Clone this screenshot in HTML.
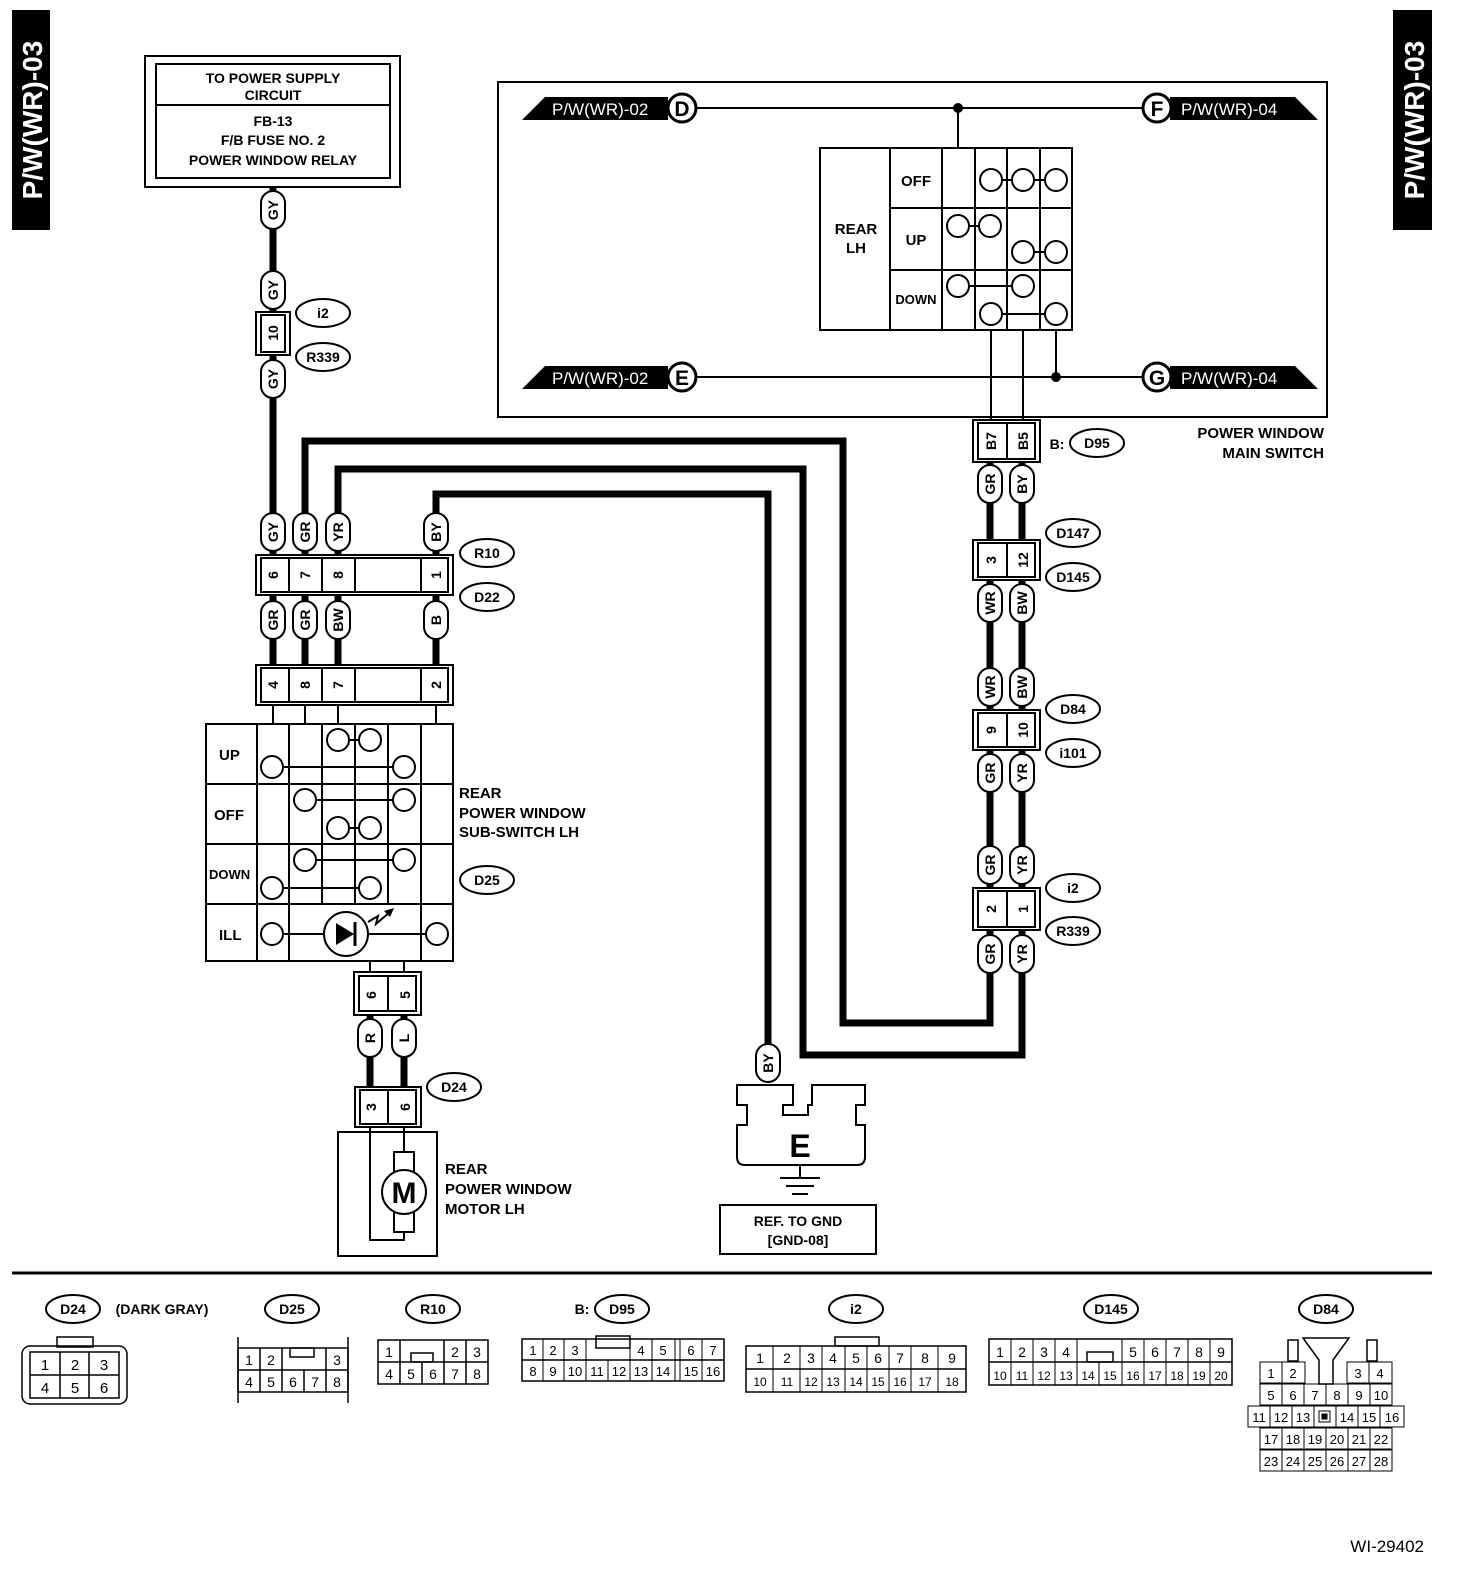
<!DOCTYPE html>
<html><head><meta charset="utf-8"><style>
html,body{margin:0;padding:0;background:#fff;overflow:hidden;width:1472px;height:1576px}
svg{display:block}
text{font-family:"Liberation Sans",Arial,sans-serif;font-weight:bold;fill:#000}
</style></head><body>
<svg width="1472" height="1576" viewBox="0 0 1472 1576" xmlns="http://www.w3.org/2000/svg">
<defs>
<g id="pill"><rect x="-12" y="-19" width="24" height="38" rx="12" fill="#fff" stroke="#000" stroke-width="2"/></g>
</defs>
<!-- side tabs -->
<rect x="12" y="10" width="38" height="220" fill="#000"/>
<text transform="translate(42,120) rotate(-90)" font-size="28" text-anchor="middle" style="fill:#fff">P/W(WR)-03</text>
<rect x="1393" y="10" width="39" height="220" fill="#000"/>
<text transform="translate(1424,120) rotate(-90)" font-size="28" text-anchor="middle" style="fill:#fff">P/W(WR)-03</text>

<!-- power supply box -->
<rect x="145" y="56" width="255" height="131" fill="none" stroke="#000" stroke-width="2"/>
<rect x="156" y="64" width="234" height="114" fill="none" stroke="#000" stroke-width="2"/>
<line x1="156" y1="105" x2="390" y2="105" stroke="#000" stroke-width="2"/>
<g font-size="14" text-anchor="middle">
<text x="273" y="83">TO POWER SUPPLY</text><text x="273" y="100">CIRCUIT</text>
<text x="273" y="126">FB-13</text><text x="273" y="145">F/B FUSE NO. 2</text><text x="273" y="165">POWER WINDOW RELAY</text>
</g>

<!-- thick wires -->
<g fill="none" stroke="#000" stroke-width="7">
<line x1="273" y1="187" x2="273" y2="555"/>
<polyline points="305,555 305,441 843,441 843,1023 990,1023 990,965"/>
<polyline points="338,555 338,469 803,469 803,1055 1022,1055 1022,965"/>
<polyline points="436,555 436,494 768,494 768,1050"/>
<line x1="273" y1="595" x2="273" y2="665"/><line x1="305" y1="595" x2="305" y2="665"/><line x1="338" y1="595" x2="338" y2="665"/><line x1="436" y1="595" x2="436" y2="665"/>
<line x1="370" y1="1015" x2="370" y2="1087"/><line x1="404" y1="1015" x2="404" y2="1087"/>
<line x1="990" y1="462" x2="990" y2="540"/><line x1="1022" y1="462" x2="1022" y2="540"/>
<line x1="990" y1="580" x2="990" y2="710"/><line x1="1022" y1="580" x2="1022" y2="710"/>
<line x1="990" y1="750" x2="990" y2="888"/><line x1="1022" y1="750" x2="1022" y2="888"/>
<line x1="990" y1="930" x2="990" y2="970"/><line x1="1022" y1="930" x2="1022" y2="970"/>
</g>

<!-- GY pills top -->
<g font-size="14">
<use href="#pill" x="273" y="210"/><text transform="translate(278,210) rotate(-90)" text-anchor="middle">GY</text>
<use href="#pill" x="273" y="290"/><text transform="translate(278,290) rotate(-90)" text-anchor="middle">GY</text>
<use href="#pill" x="273" y="379"/><text transform="translate(278,379) rotate(-90)" text-anchor="middle">GY</text>
</g>
<rect x="256" y="312" width="34" height="43" fill="#fff" stroke="#000" stroke-width="2"/>
<rect x="261" y="315" width="24" height="37" fill="#fff" stroke="#000" stroke-width="2"/>
<text transform="translate(278,333) rotate(-90)" text-anchor="middle" font-size="14">10</text>
<g font-size="14" text-anchor="middle">
<ellipse cx="323" cy="313" rx="27" ry="14" fill="#fff" stroke="#000" stroke-width="2"/><text x="323" y="318">i2</text>
<ellipse cx="323" cy="357" rx="27" ry="14" fill="#fff" stroke="#000" stroke-width="2"/><text x="323" y="362">R339</text>
</g>

<!-- R10/D22 area -->
<g font-size="14">
<use href="#pill" x="273" y="532"/><text transform="translate(278,532) rotate(-90)" text-anchor="middle">GY</text>
<use href="#pill" x="305" y="532"/><text transform="translate(310,532) rotate(-90)" text-anchor="middle">GR</text>
<use href="#pill" x="338" y="532"/><text transform="translate(343,532) rotate(-90)" text-anchor="middle">YR</text>
<use href="#pill" x="436" y="532"/><text transform="translate(441,532) rotate(-90)" text-anchor="middle">BY</text>
<use href="#pill" x="273" y="620"/><text transform="translate(278,620) rotate(-90)" text-anchor="middle">GR</text>
<use href="#pill" x="305" y="620"/><text transform="translate(310,620) rotate(-90)" text-anchor="middle">GR</text>
<use href="#pill" x="338" y="620"/><text transform="translate(343,620) rotate(-90)" text-anchor="middle">BW</text>
<use href="#pill" x="436" y="620"/><text transform="translate(441,620) rotate(-90)" text-anchor="middle">B</text>
</g>
<rect x="256" y="555" width="197" height="40" fill="#fff" stroke="#000" stroke-width="2"/>
<rect x="261" y="558" width="187" height="34" fill="#fff" stroke="#000" stroke-width="2"/>
<g stroke="#000" stroke-width="2"><line x1="289" y1="558" x2="289" y2="592"/><line x1="322" y1="558" x2="322" y2="592"/><line x1="355" y1="558" x2="355" y2="592"/><line x1="421" y1="558" x2="421" y2="592"/></g>
<g font-size="14" text-anchor="middle">
<text transform="translate(278,575) rotate(-90)">6</text><text transform="translate(310,575) rotate(-90)">7</text><text transform="translate(343,575) rotate(-90)">8</text><text transform="translate(441,575) rotate(-90)">1</text>
</g>
<rect x="256" y="665" width="197" height="40" fill="#fff" stroke="#000" stroke-width="2"/>
<rect x="261" y="668" width="187" height="34" fill="#fff" stroke="#000" stroke-width="2"/>
<g stroke="#000" stroke-width="2"><line x1="289" y1="668" x2="289" y2="702"/><line x1="322" y1="668" x2="322" y2="702"/><line x1="355" y1="668" x2="355" y2="702"/><line x1="421" y1="668" x2="421" y2="702"/></g>
<g font-size="14" text-anchor="middle">
<text transform="translate(278,685) rotate(-90)">4</text><text transform="translate(310,685) rotate(-90)">8</text><text transform="translate(343,685) rotate(-90)">7</text><text transform="translate(441,685) rotate(-90)">2</text>
</g>
<g font-size="14" text-anchor="middle">
<ellipse cx="487" cy="553" rx="27" ry="14" fill="#fff" stroke="#000" stroke-width="2"/><text x="487" y="558">R10</text>
<ellipse cx="487" cy="597" rx="27" ry="14" fill="#fff" stroke="#000" stroke-width="2"/><text x="487" y="602">D22</text>
<ellipse cx="487" cy="880" rx="27" ry="14" fill="#fff" stroke="#000" stroke-width="2"/><text x="487" y="885">D25</text>
<ellipse cx="454" cy="1087" rx="27" ry="14" fill="#fff" stroke="#000" stroke-width="2"/><text x="454" y="1092">D24</text>
</g>
<g stroke="#000" stroke-width="2"><line x1="273" y1="705" x2="273" y2="724"/><line x1="305" y1="705" x2="305" y2="724"/><line x1="338" y1="705" x2="338" y2="724"/><line x1="436" y1="705" x2="436" y2="724"/></g>

<!-- Sub switch -->
<g fill="none" stroke="#000" stroke-width="2">
<rect x="206" y="724" width="247" height="237"/>
<line x1="206" y1="784" x2="453" y2="784"/><line x1="206" y1="844" x2="453" y2="844"/><line x1="206" y1="904" x2="453" y2="904"/>
<line x1="257" y1="724" x2="257" y2="961"/><line x1="289" y1="724" x2="289" y2="961"/>
<line x1="322" y1="724" x2="322" y2="904"/><line x1="355" y1="724" x2="355" y2="904"/><line x1="388" y1="724" x2="388" y2="904"/><line x1="421" y1="724" x2="421" y2="961"/>
</g>
<g fill="#fff" stroke="#000" stroke-width="2">
<line x1="348" y1="740" x2="360" y2="740"/><line x1="283" y1="767" x2="393" y2="767"/>
<line x1="316" y1="800" x2="393" y2="800"/><line x1="348" y1="828" x2="360" y2="828"/>
<line x1="316" y1="860" x2="393" y2="860"/><line x1="283" y1="888" x2="360" y2="888"/>
<line x1="283" y1="934" x2="426" y2="934"/>
<circle cx="338" cy="740" r="11"/><circle cx="370" cy="740" r="11"/><circle cx="272" cy="767" r="11"/><circle cx="404" cy="767" r="11"/>
<circle cx="305" cy="800" r="11"/><circle cx="404" cy="800" r="11"/><circle cx="338" cy="828" r="11"/><circle cx="370" cy="828" r="11"/>
<circle cx="305" cy="860" r="11"/><circle cx="404" cy="860" r="11"/><circle cx="272" cy="888" r="11"/><circle cx="370" cy="888" r="11"/>
<circle cx="272" cy="934" r="11"/><circle cx="437" cy="934" r="11"/><circle cx="346" cy="934" r="22"/>
</g>
<polygon points="336,923 336,945 354,934" fill="#000"/><line x1="355" y1="922" x2="355" y2="946" stroke="#000" stroke-width="3"/>
<polyline points="368,922 378,916 376,924 390,912" fill="none" stroke="#000" stroke-width="2"/><polygon points="394,908 384,911 390,917" fill="#000"/>
<g font-size="15">
<text x="219" y="760">UP</text><text x="214" y="820">OFF</text><text x="209" y="879" font-size="13">DOWN</text><text x="219" y="940">ILL</text>
<text x="459" y="798">REAR</text><text x="459" y="818">POWER WINDOW</text><text x="459" y="837">SUB-SWITCH LH</text>
</g>

<!-- motor side -->
<g stroke="#000" stroke-width="2"><line x1="370" y1="961" x2="370" y2="972"/><line x1="404" y1="961" x2="404" y2="972"/></g>
<rect x="354" y="972" width="67" height="43" fill="#fff" stroke="#000" stroke-width="2"/>
<rect x="359" y="976" width="57" height="35" fill="#fff" stroke="#000" stroke-width="2"/>
<line x1="388" y1="976" x2="388" y2="1011" stroke="#000" stroke-width="2"/>
<g font-size="14" text-anchor="middle">
<text transform="translate(376,995) rotate(-90)">6</text><text transform="translate(410,995) rotate(-90)">5</text>
</g>
<g font-size="14">
<use href="#pill" x="370" y="1038"/><text transform="translate(375,1038) rotate(-90)" text-anchor="middle">R</text>
<use href="#pill" x="404" y="1038"/><text transform="translate(409,1038) rotate(-90)" text-anchor="middle">L</text>
</g>
<rect x="355" y="1087" width="66" height="40" fill="#fff" stroke="#000" stroke-width="2"/>
<rect x="360" y="1090" width="56" height="34" fill="#fff" stroke="#000" stroke-width="2"/>
<line x1="388" y1="1090" x2="388" y2="1124" stroke="#000" stroke-width="2"/>
<g font-size="14" text-anchor="middle"><text transform="translate(376,1107) rotate(-90)">3</text><text transform="translate(410,1107) rotate(-90)">6</text></g>
<rect x="338" y="1132" width="99" height="124" fill="#fff" stroke="#000" stroke-width="2"/>
<polyline points="370,1127 370,1240 404,1240 404,1220" fill="none" stroke="#000" stroke-width="2"/>
<polyline points="404,1127 404,1152" fill="none" stroke="#000" stroke-width="2"/>
<rect x="394" y="1152" width="20" height="80" fill="#fff" stroke="#000" stroke-width="2"/>
<circle cx="404" cy="1192" r="22" fill="#fff" stroke="#000" stroke-width="2"/>
<text x="404" y="1203" font-size="30" text-anchor="middle">M</text>
<g font-size="15"><text x="445" y="1174">REAR</text><text x="445" y="1194">POWER WINDOW</text><text x="445" y="1214">MOTOR LH</text></g>

<!-- ground -->
<use href="#pill" x="768" y="1063"/><text transform="translate(773,1063) rotate(-90)" text-anchor="middle" font-size="14">BY</text>
<path d="M737,1085 H793 V1105 H783 V1115 H808 V1105 H812 V1085 H865 V1105 H856 V1125 H865 V1157 Q865,1165 857,1165 H745 Q737,1165 737,1157 V1125 H747 V1105 H737 Z" fill="#fff" stroke="#000" stroke-width="2"/>
<text x="800" y="1157" font-size="32" text-anchor="middle">E</text>
<g stroke="#000" stroke-width="2"><line x1="800" y1="1165" x2="800" y2="1178"/><line x1="780" y1="1178" x2="820" y2="1178"/><line x1="786" y1="1186" x2="814" y2="1186"/><line x1="792" y1="1194" x2="808" y2="1194"/></g>
<rect x="720" y="1205" width="156" height="49" fill="#fff" stroke="#000" stroke-width="2"/>
<g font-size="14" text-anchor="middle"><text x="798" y="1226">REF. TO GND</text><text x="798" y="1245">[GND-08]</text></g>

<!-- main switch box -->
<rect x="498" y="82" width="829" height="335" fill="none" stroke="#000" stroke-width="2"/>
<line x1="690" y1="108" x2="1150" y2="108" stroke="#000" stroke-width="2"/>
<line x1="690" y1="377" x2="1150" y2="377" stroke="#000" stroke-width="2"/>
<circle cx="958" cy="108" r="5" fill="#000"/><circle cx="1056" cy="377" r="5" fill="#000"/>
<line x1="958" y1="108" x2="958" y2="148" stroke="#000" stroke-width="2"/>
<polygon points="522,120 545,97 668,97 668,120" fill="#000"/>
<polygon points="522,389 545,366 668,366 668,389" fill="#000"/>
<polygon points="1170,97 1295,97 1318,120 1170,120" fill="#000"/>
<polygon points="1170,366 1295,366 1318,389 1170,389" fill="#000"/>
<g font-size="17">
<text x="552" y="115" style="fill:#fff;font-weight:normal">P/W(WR)-02</text>
<text x="552" y="384" style="fill:#fff;font-weight:normal">P/W(WR)-02</text>
<text x="1181" y="115" style="fill:#fff;font-weight:normal">P/W(WR)-04</text>
<text x="1181" y="384" style="fill:#fff;font-weight:normal">P/W(WR)-04</text>
</g>
<g fill="#fff" stroke="#000" stroke-width="3">
<circle cx="682" cy="108" r="14"/><circle cx="682" cy="377" r="14"/><circle cx="1157" cy="108" r="14"/><circle cx="1157" cy="377" r="14"/>
</g>
<g font-size="21" text-anchor="middle">
<text x="682" y="116">D</text><text x="682" y="385">E</text><text x="1157" y="116">F</text><text x="1157" y="385">G</text>
</g>
<!-- main switch table -->
<g fill="none" stroke="#000" stroke-width="2">
<rect x="820" y="148" width="252" height="182"/>
<line x1="890" y1="148" x2="890" y2="330"/><line x1="942" y1="148" x2="942" y2="330"/><line x1="975" y1="148" x2="975" y2="330"/><line x1="1007" y1="148" x2="1007" y2="330"/><line x1="1040" y1="148" x2="1040" y2="330"/>
<line x1="890" y1="208" x2="1072" y2="208"/><line x1="890" y1="270" x2="1072" y2="270"/>
</g>
<g fill="#fff" stroke="#000" stroke-width="2">
<line x1="991" y1="180" x2="1056" y2="180"/><line x1="958" y1="226" x2="990" y2="226"/><line x1="1023" y1="252" x2="1056" y2="252"/>
<line x1="958" y1="286" x2="1023" y2="286"/><line x1="991" y1="314" x2="1056" y2="314"/>
<circle cx="991" cy="180" r="11"/><circle cx="1023" cy="180" r="11"/><circle cx="1056" cy="180" r="11"/>
<circle cx="958" cy="226" r="11"/><circle cx="990" cy="226" r="11"/><circle cx="1023" cy="252" r="11"/><circle cx="1056" cy="252" r="11"/>
<circle cx="958" cy="286" r="11"/><circle cx="1023" cy="286" r="11"/><circle cx="991" cy="314" r="11"/><circle cx="1056" cy="314" r="11"/>
</g>
<g stroke="#000" stroke-width="2"><line x1="991" y1="330" x2="991" y2="420"/><line x1="1023" y1="330" x2="1023" y2="420"/><line x1="1056" y1="330" x2="1056" y2="377"/></g>
<g font-size="15" text-anchor="middle">
<text x="856" y="234">REAR</text><text x="856" y="253">LH</text>
<text x="916" y="186">OFF</text><text x="916" y="245">UP</text><text x="916" y="304" font-size="13">DOWN</text>
</g>
<g font-size="15" text-anchor="end"><text x="1324" y="438">POWER WINDOW</text><text x="1324" y="458">MAIN SWITCH</text></g>

<!-- right wiring connectors -->
<g font-size="14" text-anchor="middle">
<rect x="973" y="420" width="67" height="42" fill="#fff" stroke="#000" stroke-width="2"/>
<rect x="978" y="423" width="57" height="36" fill="#fff" stroke="#000" stroke-width="2"/>
<line x1="1007" y1="423" x2="1007" y2="459" stroke="#000" stroke-width="2"/>
<text transform="translate(996,441) rotate(-90)">B7</text><text transform="translate(1028,441) rotate(-90)">B5</text>
<text x="1057" y="449">B:</text>
<ellipse cx="1097" cy="443" rx="27" ry="14" fill="#fff" stroke="#000" stroke-width="2"/><text x="1097" y="448">D95</text>

<use href="#pill" x="990" y="484"/><text transform="translate(995,484) rotate(-90)">GR</text>
<use href="#pill" x="1022" y="484"/><text transform="translate(1027,484) rotate(-90)">BY</text>

<rect x="973" y="540" width="67" height="40" fill="#fff" stroke="#000" stroke-width="2"/>
<rect x="978" y="543" width="57" height="34" fill="#fff" stroke="#000" stroke-width="2"/>
<line x1="1007" y1="543" x2="1007" y2="577" stroke="#000" stroke-width="2"/>
<text transform="translate(996,560) rotate(-90)">3</text><text transform="translate(1028,560) rotate(-90)">12</text>
<ellipse cx="1073" cy="533" rx="27" ry="14" fill="#fff" stroke="#000" stroke-width="2"/><text x="1073" y="538">D147</text>
<ellipse cx="1073" cy="577" rx="27" ry="14" fill="#fff" stroke="#000" stroke-width="2"/><text x="1073" y="582">D145</text>

<use href="#pill" x="990" y="603"/><text transform="translate(995,603) rotate(-90)">WR</text>
<use href="#pill" x="1022" y="603"/><text transform="translate(1027,603) rotate(-90)">BW</text>
<use href="#pill" x="990" y="687"/><text transform="translate(995,687) rotate(-90)">WR</text>
<use href="#pill" x="1022" y="687"/><text transform="translate(1027,687) rotate(-90)">BW</text>

<rect x="973" y="710" width="67" height="40" fill="#fff" stroke="#000" stroke-width="2"/>
<rect x="978" y="713" width="57" height="34" fill="#fff" stroke="#000" stroke-width="2"/>
<line x1="1007" y1="713" x2="1007" y2="747" stroke="#000" stroke-width="2"/>
<text transform="translate(996,730) rotate(-90)">9</text><text transform="translate(1028,730) rotate(-90)">10</text>
<ellipse cx="1073" cy="709" rx="27" ry="14" fill="#fff" stroke="#000" stroke-width="2"/><text x="1073" y="714">D84</text>
<ellipse cx="1073" cy="753" rx="27" ry="14" fill="#fff" stroke="#000" stroke-width="2"/><text x="1073" y="758">i101</text>

<use href="#pill" x="990" y="773"/><text transform="translate(995,773) rotate(-90)">GR</text>
<use href="#pill" x="1022" y="773"/><text transform="translate(1027,773) rotate(-90)">YR</text>
<use href="#pill" x="990" y="865"/><text transform="translate(995,865) rotate(-90)">GR</text>
<use href="#pill" x="1022" y="865"/><text transform="translate(1027,865) rotate(-90)">YR</text>

<rect x="973" y="888" width="67" height="42" fill="#fff" stroke="#000" stroke-width="2"/>
<rect x="978" y="891" width="57" height="36" fill="#fff" stroke="#000" stroke-width="2"/>
<line x1="1007" y1="891" x2="1007" y2="927" stroke="#000" stroke-width="2"/>
<text transform="translate(996,909) rotate(-90)">2</text><text transform="translate(1028,909) rotate(-90)">1</text>
<ellipse cx="1073" cy="888" rx="27" ry="14" fill="#fff" stroke="#000" stroke-width="2"/><text x="1073" y="893">i2</text>
<ellipse cx="1073" cy="931" rx="27" ry="14" fill="#fff" stroke="#000" stroke-width="2"/><text x="1073" y="936">R339</text>

<use href="#pill" x="990" y="954"/><text transform="translate(995,954) rotate(-90)">GR</text>
<use href="#pill" x="1022" y="954"/><text transform="translate(1027,954) rotate(-90)">YR</text>
</g>

<!-- separator -->
<line x1="12" y1="1273" x2="1432" y2="1273" stroke="#000" stroke-width="3"/>

<!-- bottom connector labels -->
<g font-size="14" text-anchor="middle">
<ellipse cx="73" cy="1309" rx="27" ry="14" fill="#fff" stroke="#000" stroke-width="2"/><text x="73" y="1314">D24</text>
<text x="162" y="1314">(DARK GRAY)</text>
<ellipse cx="292" cy="1309" rx="27" ry="14" fill="#fff" stroke="#000" stroke-width="2"/><text x="292" y="1314">D25</text>
<ellipse cx="433" cy="1309" rx="27" ry="14" fill="#fff" stroke="#000" stroke-width="2"/><text x="433" y="1314">R10</text>
<text x="582" y="1314">B:</text>
<ellipse cx="622" cy="1309" rx="27" ry="14" fill="#fff" stroke="#000" stroke-width="2"/><text x="622" y="1314">D95</text>
<ellipse cx="856" cy="1309" rx="27" ry="14" fill="#fff" stroke="#000" stroke-width="2"/><text x="856" y="1314">i2</text>
<ellipse cx="1111" cy="1309" rx="27" ry="14" fill="#fff" stroke="#000" stroke-width="2"/><text x="1111" y="1314">D145</text>
<ellipse cx="1326" cy="1309" rx="27" ry="14" fill="#fff" stroke="#000" stroke-width="2"/><text x="1326" y="1314">D84</text>
</g>

<g fill="none" stroke="#000" stroke-width="1.5">
<rect x="22" y="1346" width="105" height="58" rx="8"/>
<rect x="57" y="1337" width="36" height="10"/>
<rect x="30" y="1352" width="89" height="46"/>
<line x1="30" y1="1375" x2="119" y2="1375"/><line x1="60" y1="1352" x2="60" y2="1398"/><line x1="89" y1="1352" x2="89" y2="1398"/>
<rect x="238" y="1348" width="110" height="44"/><line x1="238" y1="1337" x2="238" y2="1403"/><line x1="348" y1="1337" x2="348" y2="1403"/>
<line x1="238" y1="1370" x2="348" y2="1370"/>
<line x1="260" y1="1348" x2="260" y2="1392"/><line x1="282" y1="1348" x2="282" y2="1392"/><line x1="304" y1="1370" x2="304" y2="1392"/><line x1="326" y1="1348" x2="326" y2="1392"/>
<rect x="290" y="1348" width="24" height="9"/>
<rect x="378" y="1340" width="110" height="44"/>
<line x1="378" y1="1362" x2="488" y2="1362"/>
<line x1="400" y1="1340" x2="400" y2="1384"/><line x1="422" y1="1362" x2="422" y2="1384"/><line x1="444" y1="1340" x2="444" y2="1384"/><line x1="466" y1="1340" x2="466" y2="1384"/>
<rect x="411" y="1353" width="22" height="9"/>
<rect x="522" y="1339" width="202" height="42"/>
<line x1="522" y1="1360" x2="724" y2="1360"/>
<rect x="596" y="1336" width="34" height="12"/>
<rect x="746" y="1346" width="220" height="46"/>
<line x1="746" y1="1369" x2="966" y2="1369"/>
<rect x="835" y="1337" width="44" height="9"/>
<rect x="989" y="1339" width="243" height="46"/>
<line x1="989" y1="1362" x2="1232" y2="1362"/>
<rect x="1087" y="1352" width="26" height="10"/>
<rect x="1288" y="1340" width="10" height="21"/><rect x="1367" y="1340" width="10" height="21"/>
<polygon points="1303,1338 1349,1338 1333,1360 1333,1384 1319,1384 1319,1360"/>
</g>
<g font-size="15" text-anchor="middle">
<text x="45" y="1370" style="font-weight:normal">1</text><text x="75" y="1370" style="font-weight:normal">2</text><text x="104" y="1370" style="font-weight:normal">3</text>
<text x="45" y="1393" style="font-weight:normal">4</text><text x="75" y="1393" style="font-weight:normal">5</text><text x="104" y="1393" style="font-weight:normal">6</text>
</g>
<g font-size="14" text-anchor="middle">
<text x="249" y="1365" style="font-weight:normal">1</text><text x="271" y="1365" style="font-weight:normal">2</text><text x="337" y="1365" style="font-weight:normal">3</text>
<text x="249" y="1387" style="font-weight:normal">4</text><text x="271" y="1387" style="font-weight:normal">5</text><text x="293" y="1387" style="font-weight:normal">6</text><text x="315" y="1387" style="font-weight:normal">7</text><text x="337" y="1387" style="font-weight:normal">8</text>
<text x="389" y="1357" style="font-weight:normal">1</text><text x="455" y="1357" style="font-weight:normal">2</text><text x="477" y="1357" style="font-weight:normal">3</text>
<text x="389" y="1379" style="font-weight:normal">4</text><text x="411" y="1379" style="font-weight:normal">5</text><text x="433" y="1379" style="font-weight:normal">6</text><text x="455" y="1379" style="font-weight:normal">7</text><text x="477" y="1379" style="font-weight:normal">8</text>
</g>
<g font-size="13" text-anchor="middle" stroke="#000" stroke-width="1">
<text x="533" y="1355" stroke="none" style="font-weight:normal">1</text><text x="553" y="1355" stroke="none" style="font-weight:normal">2</text><text x="575" y="1355" stroke="none" style="font-weight:normal">3</text>
<text x="641" y="1355" stroke="none" style="font-weight:normal">4</text><text x="663" y="1355" stroke="none" style="font-weight:normal">5</text><text x="691" y="1355" stroke="none" style="font-weight:normal">6</text><text x="713" y="1355" stroke="none" style="font-weight:normal">7</text>
<text x="533" y="1376" stroke="none" style="font-weight:normal">8</text><text x="553" y="1376" stroke="none" style="font-weight:normal">9</text><text x="575" y="1376" stroke="none" style="font-weight:normal">10</text><text x="597" y="1376" stroke="none" style="font-weight:normal">11</text><text x="619" y="1376" stroke="none" style="font-weight:normal">12</text><text x="641" y="1376" stroke="none" style="font-weight:normal">13</text><text x="663" y="1376" stroke="none" style="font-weight:normal">14</text><text x="691" y="1376" stroke="none" style="font-weight:normal">15</text><text x="713" y="1376" stroke="none" style="font-weight:normal">16</text>
<line x1="543" y1="1339" x2="543" y2="1381"/><line x1="564" y1="1339" x2="564" y2="1381"/><line x1="586" y1="1339" x2="586" y2="1381"/><line x1="608" y1="1360" x2="608" y2="1381"/><line x1="630" y1="1339" x2="630" y2="1381"/><line x1="652" y1="1339" x2="652" y2="1381"/><line x1="675" y1="1339" x2="675" y2="1381"/><line x1="680" y1="1339" x2="680" y2="1381"/><line x1="702" y1="1339" x2="702" y2="1381"/>
</g>
<g font-size="14" text-anchor="middle" stroke="#000" stroke-width="1">
<text x="760" y="1363" stroke="none" style="font-weight:normal">1</text><text x="787" y="1363" stroke="none" style="font-weight:normal">2</text><text x="811" y="1363" stroke="none" style="font-weight:normal">3</text><text x="833" y="1363" stroke="none" style="font-weight:normal">4</text><text x="856" y="1363" stroke="none" style="font-weight:normal">5</text><text x="878" y="1363" stroke="none" style="font-weight:normal">6</text><text x="900" y="1363" stroke="none" style="font-weight:normal">7</text><text x="925" y="1363" stroke="none" style="font-weight:normal">8</text><text x="952" y="1363" stroke="none" style="font-weight:normal">9</text>
<text x="760" y="1386" stroke="none" style="font-weight:normal" font-size="12">10</text><text x="787" y="1386" stroke="none" style="font-weight:normal" font-size="12">11</text><text x="811" y="1386" stroke="none" style="font-weight:normal" font-size="12">12</text><text x="833" y="1386" stroke="none" style="font-weight:normal" font-size="12">13</text><text x="856" y="1386" stroke="none" style="font-weight:normal" font-size="12">14</text><text x="878" y="1386" stroke="none" style="font-weight:normal" font-size="12">15</text><text x="900" y="1386" stroke="none" style="font-weight:normal" font-size="12">16</text><text x="925" y="1386" stroke="none" style="font-weight:normal" font-size="12">17</text><text x="952" y="1386" stroke="none" style="font-weight:normal" font-size="12">18</text>
<line x1="773" y1="1346" x2="773" y2="1392"/><line x1="800" y1="1346" x2="800" y2="1392"/><line x1="822" y1="1346" x2="822" y2="1392"/><line x1="845" y1="1346" x2="845" y2="1392"/><line x1="867" y1="1346" x2="867" y2="1392"/><line x1="889" y1="1346" x2="889" y2="1392"/><line x1="911" y1="1346" x2="911" y2="1392"/><line x1="938" y1="1346" x2="938" y2="1392"/>
</g>
<g font-size="14" text-anchor="middle" stroke="#000" stroke-width="1">
<text x="1000" y="1357" stroke="none" style="font-weight:normal">1</text><text x="1022" y="1357" stroke="none" style="font-weight:normal">2</text><text x="1044" y="1357" stroke="none" style="font-weight:normal">3</text><text x="1066" y="1357" stroke="none" style="font-weight:normal">4</text><text x="1133" y="1357" stroke="none" style="font-weight:normal">5</text><text x="1155" y="1357" stroke="none" style="font-weight:normal">6</text><text x="1177" y="1357" stroke="none" style="font-weight:normal">7</text><text x="1199" y="1357" stroke="none" style="font-weight:normal">8</text><text x="1221" y="1357" stroke="none" style="font-weight:normal">9</text>
<text x="1000" y="1380" stroke="none" style="font-weight:normal" font-size="12">10</text><text x="1022" y="1380" stroke="none" style="font-weight:normal" font-size="12">11</text><text x="1044" y="1380" stroke="none" style="font-weight:normal" font-size="12">12</text><text x="1066" y="1380" stroke="none" style="font-weight:normal" font-size="12">13</text><text x="1088" y="1380" stroke="none" style="font-weight:normal" font-size="12">14</text><text x="1110" y="1380" stroke="none" style="font-weight:normal" font-size="12">15</text><text x="1133" y="1380" stroke="none" style="font-weight:normal" font-size="12">16</text><text x="1155" y="1380" stroke="none" style="font-weight:normal" font-size="12">17</text><text x="1177" y="1380" stroke="none" style="font-weight:normal" font-size="12">18</text><text x="1199" y="1380" stroke="none" style="font-weight:normal" font-size="12">19</text><text x="1221" y="1380" stroke="none" style="font-weight:normal" font-size="12">20</text>
<line x1="1011" y1="1339" x2="1011" y2="1385"/><line x1="1033" y1="1339" x2="1033" y2="1385"/><line x1="1055" y1="1339" x2="1055" y2="1385"/><line x1="1077" y1="1339" x2="1077" y2="1385"/><line x1="1099" y1="1362" x2="1099" y2="1385"/><line x1="1122" y1="1339" x2="1122" y2="1385"/><line x1="1144" y1="1339" x2="1144" y2="1385"/><line x1="1166" y1="1339" x2="1166" y2="1385"/><line x1="1188" y1="1339" x2="1188" y2="1385"/><line x1="1210" y1="1339" x2="1210" y2="1385"/>
</g>
<g fill="none" stroke="#000" stroke-width="1">
<rect x="1260" y="1362" width="45" height="21"/><rect x="1347" y="1362" width="45" height="21"/>
<line x1="1282" y1="1362" x2="1282" y2="1383"/><line x1="1369" y1="1362" x2="1369" y2="1383"/>
<rect x="1260" y="1384" width="132" height="21"/>
<rect x="1248" y="1406" width="156" height="21"/>
<rect x="1260" y="1428" width="132" height="21"/>
<rect x="1260" y="1450" width="132" height="21"/>
<line x1="1282" y1="1384" x2="1282" y2="1405"/><line x1="1304" y1="1384" x2="1304" y2="1405"/><line x1="1326" y1="1384" x2="1326" y2="1405"/><line x1="1348" y1="1384" x2="1348" y2="1405"/><line x1="1370" y1="1384" x2="1370" y2="1405"/>
<line x1="1270" y1="1406" x2="1270" y2="1427"/><line x1="1292" y1="1406" x2="1292" y2="1427"/><line x1="1314" y1="1406" x2="1314" y2="1427"/><line x1="1336" y1="1406" x2="1336" y2="1427"/><line x1="1358" y1="1406" x2="1358" y2="1427"/><line x1="1380" y1="1406" x2="1380" y2="1427"/>
<line x1="1282" y1="1428" x2="1282" y2="1471"/><line x1="1304" y1="1428" x2="1304" y2="1471"/><line x1="1326" y1="1428" x2="1326" y2="1471"/><line x1="1348" y1="1428" x2="1348" y2="1471"/><line x1="1370" y1="1428" x2="1370" y2="1471"/>
<rect x="1319" y="1411" width="11" height="11"/><rect x="1322" y="1414" width="5" height="5" fill="#000"/>
</g>
<g font-size="13" text-anchor="middle">
<text x="1271" y="1378" style="font-weight:normal">1</text><text x="1293" y="1378" style="font-weight:normal">2</text><text x="1358" y="1378" style="font-weight:normal">3</text><text x="1380" y="1378" style="font-weight:normal">4</text>
<text x="1271" y="1400" style="font-weight:normal">5</text><text x="1293" y="1400" style="font-weight:normal">6</text><text x="1315" y="1400" style="font-weight:normal">7</text><text x="1337" y="1400" style="font-weight:normal">8</text><text x="1359" y="1400" style="font-weight:normal">9</text><text x="1381" y="1400" style="font-weight:normal">10</text>
<text x="1259" y="1422" style="font-weight:normal">11</text><text x="1281" y="1422" style="font-weight:normal">12</text><text x="1303" y="1422" style="font-weight:normal">13</text><text x="1347" y="1422" style="font-weight:normal">14</text><text x="1369" y="1422" style="font-weight:normal">15</text><text x="1392" y="1422" style="font-weight:normal">16</text>
<text x="1271" y="1444" style="font-weight:normal">17</text><text x="1293" y="1444" style="font-weight:normal">18</text><text x="1315" y="1444" style="font-weight:normal">19</text><text x="1337" y="1444" style="font-weight:normal">20</text><text x="1359" y="1444" style="font-weight:normal">21</text><text x="1381" y="1444" style="font-weight:normal">22</text>
<text x="1271" y="1466" style="font-weight:normal">23</text><text x="1293" y="1466" style="font-weight:normal">24</text><text x="1315" y="1466" style="font-weight:normal">25</text><text x="1337" y="1466" style="font-weight:normal">26</text><text x="1359" y="1466" style="font-weight:normal">27</text><text x="1381" y="1466" style="font-weight:normal">28</text>
</g>

<text x="1424" y="1552" font-size="17" text-anchor="end" style="font-weight:normal">WI-29402</text>
</svg>
</body></html>
